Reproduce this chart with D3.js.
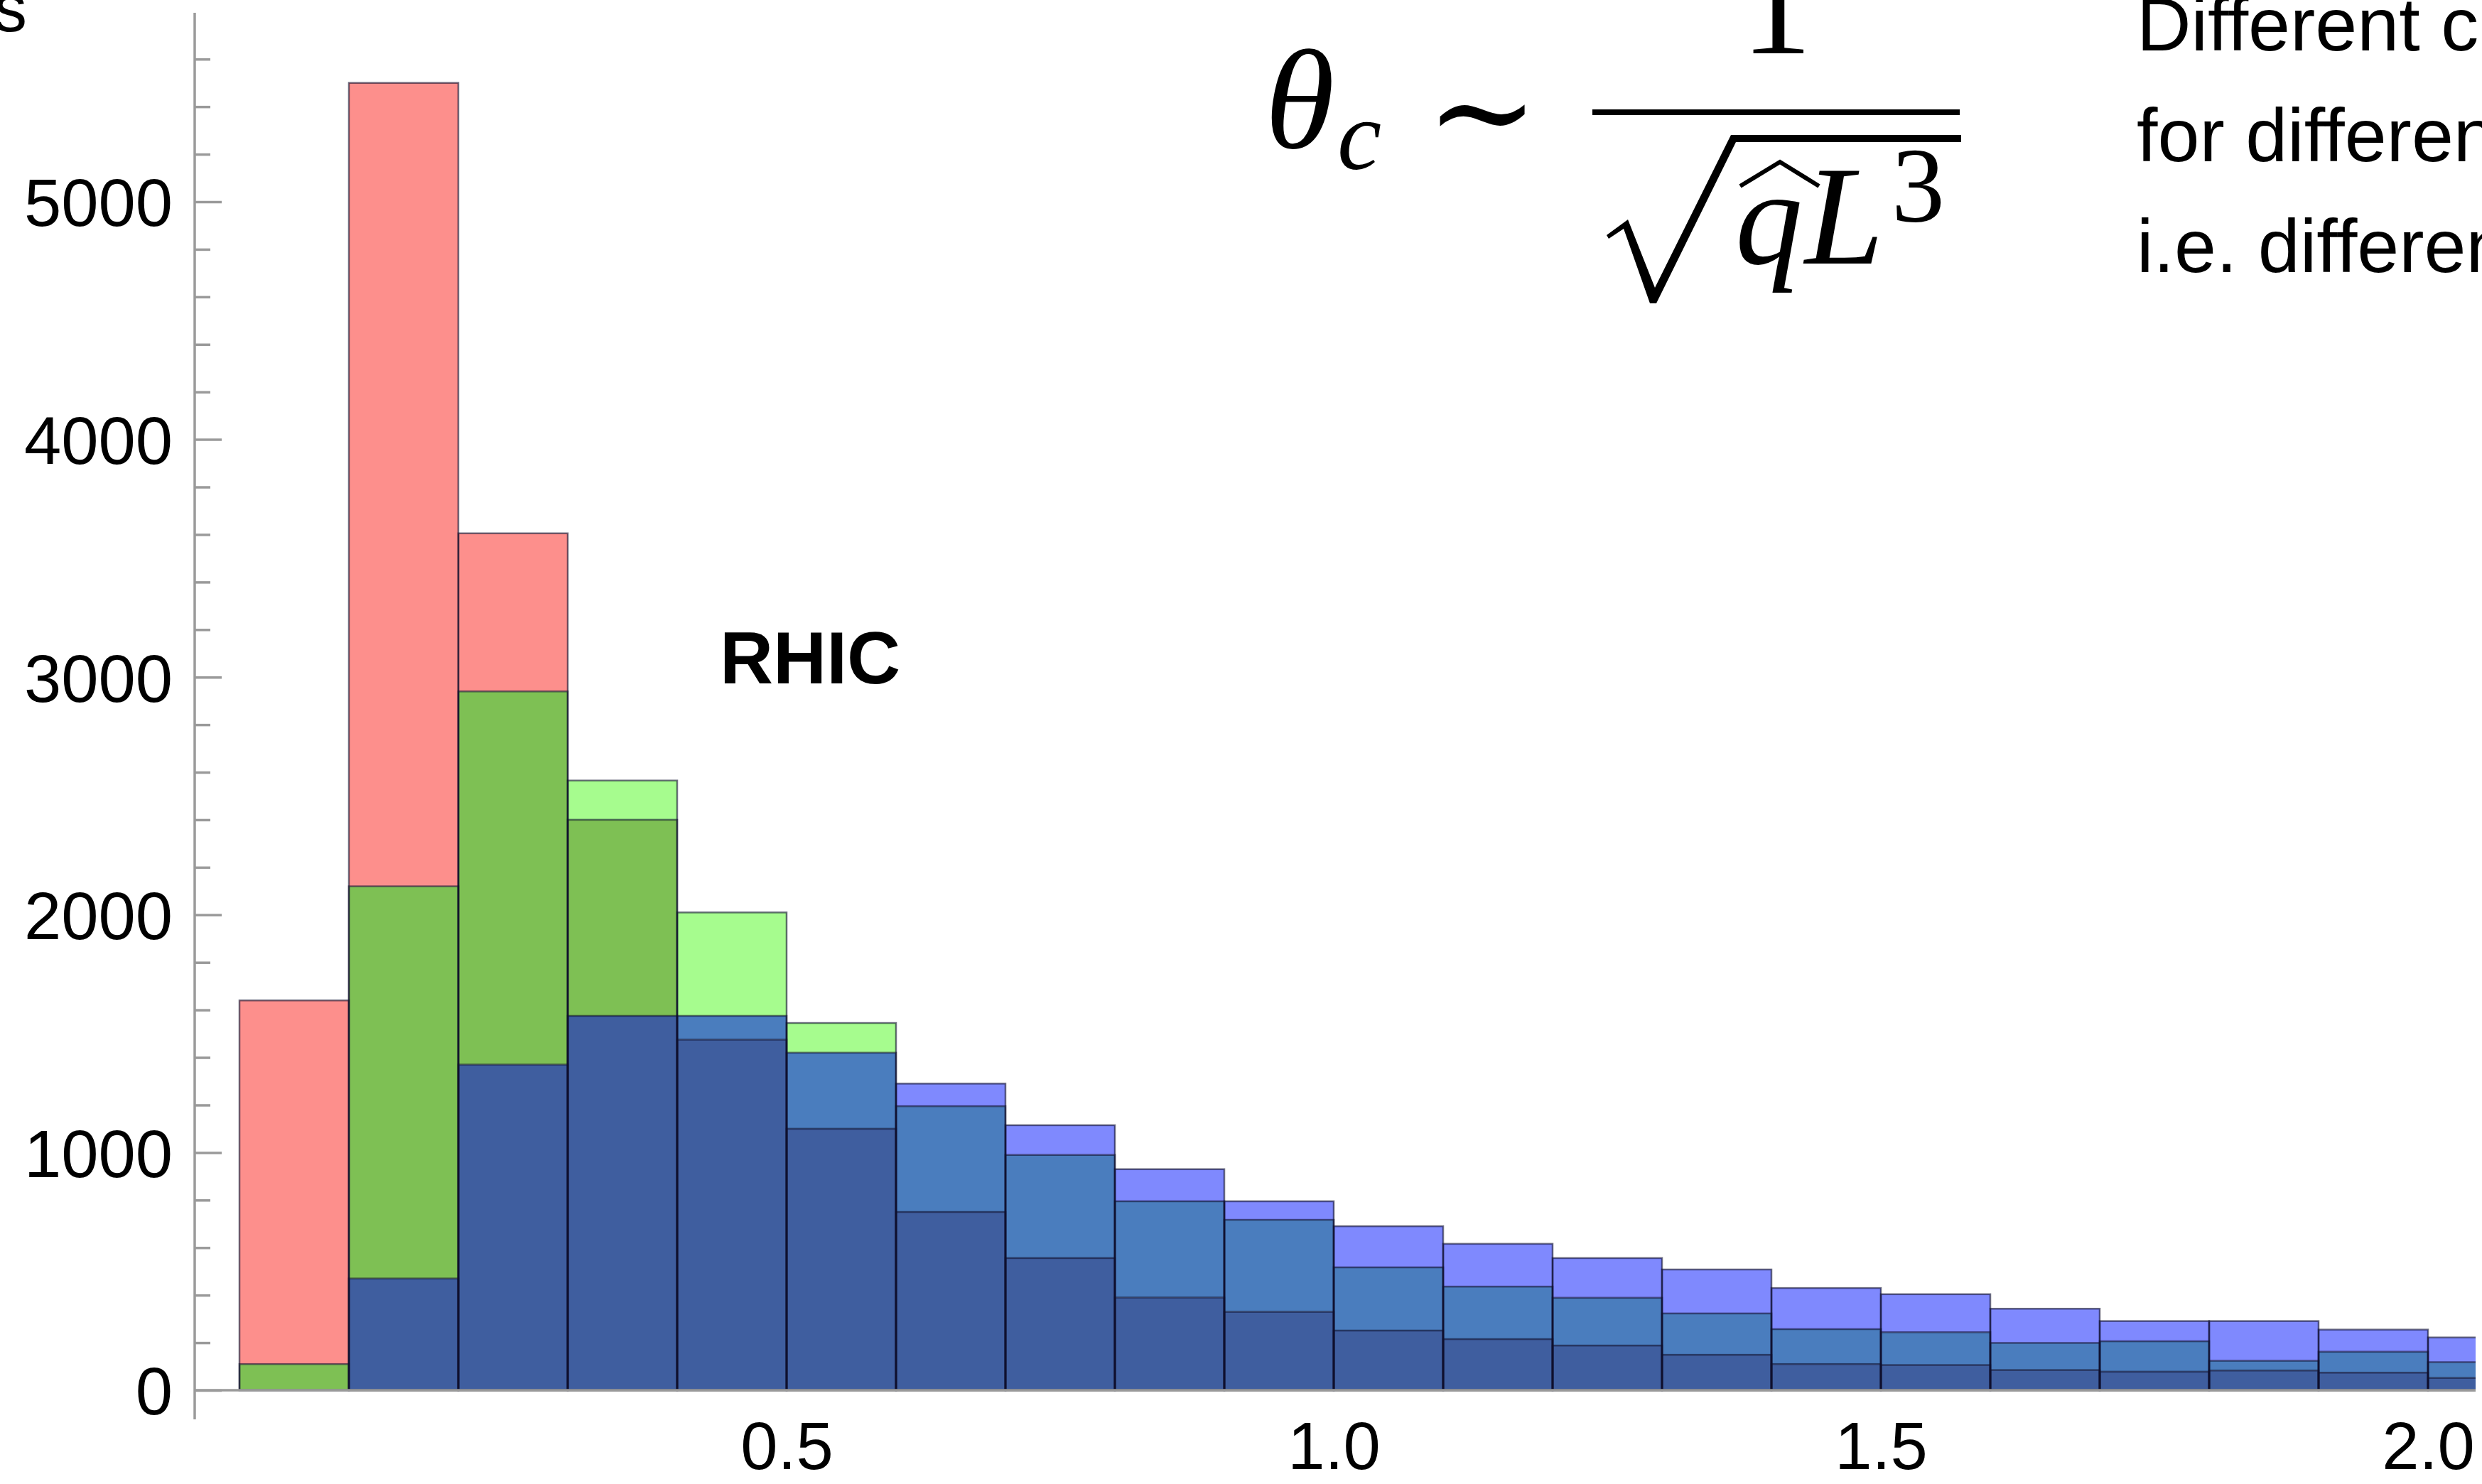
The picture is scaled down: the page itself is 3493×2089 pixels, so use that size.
<!DOCTYPE html>
<html>
<head>
<meta charset="utf-8">
<script src="https://cdn.jsdelivr.net/npm/d3@7"></script>
<style>
html, body { margin: 0; padding: 0; background: #fff; }
svg { display: block; }
</style>
</head>
<body>
<div id="chart"></div>
<script>
// histogram bins (left edges) and counts per series
const bin_starts = [0.0, 0.1, 0.2, 0.3, 0.4, 0.5, 0.6, 0.7, 0.8, 0.9, 1.0,
                    1.1, 1.2, 1.3, 1.4, 1.5, 1.6, 1.7, 1.8, 1.9, 2.0];
const red_counts   = [1640, 5500, 3605, 2400, 1475, 1100, 750, 556, 390, 330, 251,
                      215, 188, 149, 110, 106, 85, 78, 83, 74, 52];
const green_counts = [110, 2120, 2940, 2565, 2010, 1545, 1195, 990, 795, 717, 517,
                      436, 389, 323, 257, 244, 199, 206, 124, 162, 118];
const blue_counts  = [0, 470, 1370, 1575, 1575, 1420, 1290, 1115, 930, 795, 690,
                      616, 556, 508, 430, 404, 343, 291, 291, 255, 222];
const bin_width = 0.1;

const y_major_ticks = [0, 1000, 2000, 3000, 4000, 5000];
const y_minor_ticks = [200, 400, 600, 800, 1200, 1400, 1600, 1800, 2200, 2400, 2600, 2800,
                       3200, 3400, 3600, 3800, 4200, 4400, 4600, 4800, 5200, 5400, 5600];
const x_ticks = [0.5, 1.0, 1.5, 2.0];

const note_lines = ['Different c', 'for differen', 'i.e. differen'];

const chart_width = 3493;
const chart_height = 2089;
const sans = '"Liberation Sans", Arial, Helvetica, sans-serif';
const serif = '"Liberation Serif", "Times New Roman", serif';

// colours of the overlapping translucent histograms
const region_colors = {
    r: '#fd8f8c', g: '#a6fc8e', b: '#7f89fe',
    rg: '#7ec054', gb: '#4a7dbe', rb: '#6a6fb0', rgb: '#3f5e9f'
};

const svg = d3.select('#chart')
    .append('svg')
    .attr('width', chart_width)
    .attr('height', chart_height);

svg.append('rect')
    .attr('width', chart_width)
    .attr('height', chart_height)
    .attr('fill', '#ffffff');

// Scales
const x_scale = d3.scaleLinear()
    .domain([0, 2.1])
    .range([337, 337 + 2.1 * 1540]);

const y_scale = d3.scaleLinear()
    .domain([0, 5800])
    .range([1957, 1957 - 5800 * 0.3346]);

svg.append('clipPath')
    .attr('id', 'plot-clip')
    .append('rect')
    .attr('x', 0).attr('y', 0)
    .attr('width', 3484).attr('height', chart_height);

// Build region pieces for each bin
const series = [
    {key: 'r', values: red_counts},
    {key: 'g', values: green_counts},
    {key: 'b', values: blue_counts}
];

const pieces = [];
bin_starts.forEach((x0, i) => {
    const levels = [0, ...new Set(series.map(s => s.values[i]).filter(v => v > 0))]
        .sort((a, b) => a - b);
    for (let k = 1; k < levels.length; k++) {
        const lo = levels[k - 1], hi = levels[k];
        const key = series.filter(s => s.values[i] >= hi).map(s => s.key).join('');
        pieces.push({x0: x0, lo: lo, hi: hi, key: key});
    }
});

const plot = svg.append('g').attr('clip-path', 'url(#plot-clip)');

plot.append('g')
    .selectAll('rect')
    .data(pieces)
    .enter()
    .append('rect')
    .attr('x', d => x_scale(d.x0))
    .attr('y', d => y_scale(d.hi))
    .attr('width', d => x_scale(d.x0 + bin_width) - x_scale(d.x0))
    .attr('height', d => y_scale(d.lo) - y_scale(d.hi))
    .attr('fill', d => region_colors[d.key]);

// Bar outlines of each series
series.forEach(s => {
    plot.append('g')
        .selectAll('rect')
        .data(bin_starts.map((x0, i) => ({x0: x0, v: s.values[i]})).filter(d => d.v > 0))
        .enter()
        .append('rect')
        .attr('x', d => x_scale(d.x0))
        .attr('y', d => y_scale(d.v))
        .attr('width', d => x_scale(d.x0 + bin_width) - x_scale(d.x0))
        .attr('height', d => y_scale(0) - y_scale(d.v))
        .attr('fill', 'none')
        .attr('stroke', 'rgba(15,15,45,0.6)')
        .attr('stroke-width', 2.5);
});

// Axes
const axis_color = '#9a9a9a';

plot.append('line')
    .attr('x1', 274).attr('x2', 3484)
    .attr('y1', y_scale(0)).attr('y2', y_scale(0))
    .attr('stroke', axis_color)
    .attr('stroke-width', 3.5);

svg.append('line')
    .attr('x1', 274).attr('x2', 274)
    .attr('y1', 18).attr('y2', 1998)
    .attr('stroke', axis_color)
    .attr('stroke-width', 3.5);

const y_axis = d3.axisLeft(y_scale)
    .tickValues(y_major_ticks)
    .tickSize(-38)
    .tickPadding(31)
    .tickFormat(d3.format('d'));
const y_axis_g = svg.append('g')
    .attr('transform', 'translate(274, 0)')
    .call(y_axis);
y_axis_g.select('.domain').remove();
y_axis_g.selectAll('line').attr('stroke', axis_color).attr('stroke-width', 3.5);
y_axis_g.selectAll('text')
    .attr('font-family', sans)
    .attr('font-size', 94)
    .attr('fill', '#000')
    .attr('dy', '0.36em');

const y_minor = d3.axisLeft(y_scale)
    .tickValues(y_minor_ticks)
    .tickSize(-22)
    .tickFormat('');
const y_minor_g = svg.append('g')
    .attr('transform', 'translate(274, 0)')
    .call(y_minor);
y_minor_g.select('.domain').remove();
y_minor_g.selectAll('line').attr('stroke', axis_color).attr('stroke-width', 3.5);

const x_axis = d3.axisBottom(x_scale)
    .tickValues(x_ticks)
    .tickSize(0)
    .tickPadding(44)
    .tickFormat(d3.format('.1f'));
const x_axis_g = svg.append('g')
    .attr('transform', `translate(0, ${y_scale(0)})`)
    .call(x_axis);
x_axis_g.select('.domain').remove();
x_axis_g.selectAll('text')
    .attr('font-family', sans)
    .attr('font-size', 94)
    .attr('fill', '#000');

// Axis label fragment (cut off at the left edge)
svg.append('text')
    .text('s')
    .attr('x', 38)
    .attr('y', 44)
    .attr('text-anchor', 'end')
    .attr('font-family', sans)
    .attr('font-size', 94);

// RHIC label
svg.append('text')
    .text('RHIC')
    .attr('x', 1013)
    .attr('y', 962)
    .attr('font-family', sans)
    .attr('font-weight', 'bold')
    .attr('font-size', 104);

// Formula: theta_c ~ 1 / sqrt(q^ L^3)
const formula = svg.append('g').attr('fill', '#000');
formula.append('text').text('θ')
    .attr('x', 1780).attr('y', 208)
    .attr('font-family', serif).attr('font-style', 'italic').attr('font-size', 200);
formula.append('text').text('c')
    .attr('x', 1882).attr('y', 238)
    .attr('font-family', serif).attr('font-style', 'italic').attr('font-size', 140);
formula.append('text').text('∼')
    .attr('x', 2086).attr('y', 222)
    .attr('text-anchor', 'middle')
    .attr('font-family', '"DejaVu Serif", serif').attr('font-size', 190);
formula.append('line')
    .attr('x1', 2241).attr('x2', 2758)
    .attr('y1', 158).attr('y2', 158)
    .attr('stroke', '#000').attr('stroke-width', 8);
formula.append('text').text('1')
    .attr('x', 2500).attr('y', 75)
    .attr('text-anchor', 'middle')
    .attr('font-family', serif).attr('font-size', 200);
formula.append('path')
    .attr('d', 'M2261,331 L2291,309 L2329,405 L2436,190 L2760,190 L2760,200 L2443,200 L2331,427 L2322,427 L2285,322 L2264,336 Z')
    .attr('fill', '#000');
formula.append('text').text('q')
    .attr('x', 2442).attr('y', 371)
    .attr('font-family', serif).attr('font-style', 'italic').attr('font-size', 190);
formula.append('path')
    .attr('d', 'M2449,262 L2505,228 L2560,262')
    .attr('fill', 'none').attr('stroke', '#000').attr('stroke-width', 6);
formula.append('text').text('L')
    .attr('x', 2540).attr('y', 371)
    .attr('font-family', serif).attr('font-style', 'italic').attr('font-size', 200);
formula.append('text').text('3')
    .attr('x', 2662).attr('y', 312)
    .attr('font-family', serif).attr('font-size', 150);

// Side note (cut off at the right edge)
svg.append('g')
    .selectAll('text')
    .data(note_lines)
    .enter()
    .append('text')
    .text(d => d)
    .attr('x', 3007)
    .attr('y', (d, i) => 71 + i * 156)
    .attr('font-family', sans)
    .attr('font-size', 106);
</script>
</body>
</html>
